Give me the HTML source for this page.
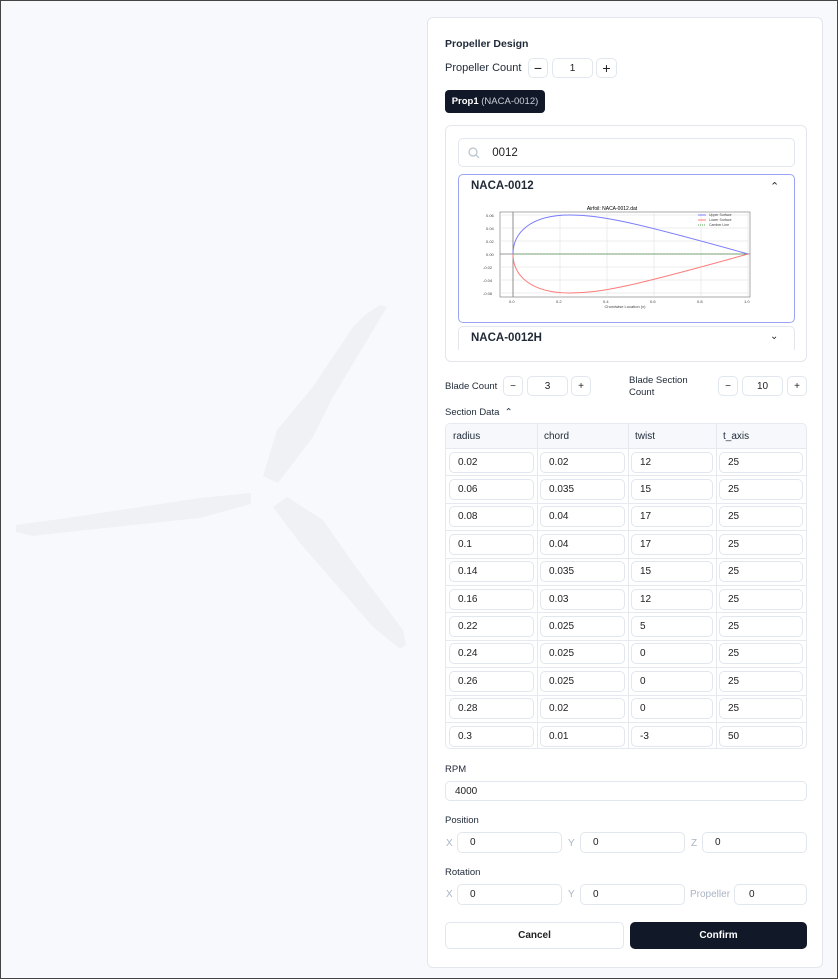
<!DOCTYPE html>
<html><head><meta charset="utf-8"><style>
*{box-sizing:border-box;margin:0;padding:0}
body{width:838px;height:979px;background:#f8f9fc;font-family:"Liberation Sans",sans-serif;color:#111827;position:relative;overflow:hidden}
.frame{position:absolute;left:0;top:0;width:838px;height:979px;border:1px solid #444;pointer-events:none}
.a{position:absolute}
.panel{position:absolute;left:427px;top:17px;width:396px;height:951px;background:#fff;border:1px solid #e3e6ec;border-radius:6px}
.t{position:absolute;font-size:10px;color:#1f2937}
.b{position:absolute;border:1px solid #e2e6ee;border-radius:5px;background:#fff;font-size:10px;color:#222;display:flex;align-items:center}
.c{justify-content:center}
.lab{position:absolute;font-size:10px;color:#aab4c3}
</style></head><body>
<svg class="a" style="left:0;top:0" width="430" height="979">
<g fill="#f0f1f4">
<polygon points="380,305 387,307 333,397 313,437 278,483 263,476 277,430 312,388 353,327 365,315"/>
<polygon points="251,493 251,504 200,518 67,532 33,536 16,532 16,525 67,518 200,498"/>
<polygon points="287,497 273,507 300,543 373,627 400,649 406,645 403,630 353,563 323,520"/>
</g></svg>
<div class="panel"></div>
<div class="t" style="left:445px;top:38px;font-size:10.5px;font-weight:bold">Propeller Design</div>
<div class="t" style="left:445px;top:62px;font-size:11px">Propeller Count</div>
<div class="b c" style="left:528px;top:58px;width:20px;height:20px;font-size:14px">−</div>
<div class="b c" style="left:552px;top:58px;width:41px;height:20px">1</div>
<div class="b c" style="left:596px;top:58px;width:21px;height:20px;font-size:14px">+</div>
<div class="a" style="left:445px;top:90px;width:100px;height:23px;background:#111827;border-radius:4px;color:#fff;font-size:9.5px;line-height:23px;text-align:center"><b>Prop1</b> <span style="color:#c9ced8">(NACA-0012)</span></div>
<div class="a" style="left:445px;top:125px;width:362px;height:237px;border:1px solid #e3e6ec;border-radius:6px"></div>
<div class="b" style="left:458px;top:138px;width:337px;height:29px;font-size:11.5px"><svg width="30" height="14"><circle cx="14" cy="6" r="4" fill="none" stroke="#b6c2cc" stroke-width="1.2"/><line x1="17" y1="9" x2="20" y2="12" stroke="#b6c2cc" stroke-width="1.2"/></svg>&nbsp;0012</div>
<div class="a" style="left:458px;top:174px;width:337px;height:149px;border:1.5px solid #9ba3f5;border-radius:5px"></div>
<div class="t" style="left:471px;top:180px;font-size:11.5px;font-weight:bold">NACA-0012</div>
<div class="t" style="left:770px;top:180px;font-size:11px">⌃</div>
<svg class="a" style="left:470px;top:203px" width="300" height="110" font-family="Liberation Sans" font-size="4">
<text x="142" y="7" text-anchor="middle" font-size="5">Airfoil: NACA-0012.dat</text>
<rect x="30" y="9" width="250" height="85" fill="#fff" stroke="#555" stroke-width=".5"/>
<g stroke="#ddd" stroke-width=".5">
<line x1="43" y1="9" x2="43" y2="94"/><line x1="90" y1="9" x2="90" y2="94"/><line x1="137" y1="9" x2="137" y2="94"/><line x1="184" y1="9" x2="184" y2="94"/><line x1="231" y1="9" x2="231" y2="94"/><line x1="278" y1="9" x2="278" y2="94"/>
<line x1="30" y1="12" x2="280" y2="12"/><line x1="30" y1="25" x2="280" y2="25"/><line x1="30" y1="38" x2="280" y2="38"/><line x1="30" y1="64" x2="280" y2="64"/><line x1="30" y1="77" x2="280" y2="77"/><line x1="30" y1="90" x2="280" y2="90"/></g>
<line x1="43" y1="9" x2="43" y2="94" stroke="#777" stroke-width=".8"/>
<line x1="30" y1="51" x2="280" y2="51" stroke="#777" stroke-width=".8"/>
<path d="M43,51 C43,30 60,12 100,12 C130,12 160,18 278,51" fill="none" stroke="#7b7bff" stroke-width="1"/>
<path d="M43,51 C43,72 60,90 100,90 C130,90 160,84 278,51" fill="none" stroke="#ff7b7b" stroke-width="1"/>
<line x1="43" y1="51" x2="278" y2="51" stroke="#5a5" stroke-width=".7" stroke-dasharray="2,1"/>
<g fill="#444"><text x="16" y="14">0.06</text><text x="16" y="27">0.04</text><text x="16" y="40">0.02</text><text x="16" y="53">0.00</text><text x="13" y="66">-0.02</text><text x="13" y="79">-0.04</text><text x="13" y="92">-0.06</text>
<text x="39" y="100">0.0</text><text x="86" y="100">0.2</text><text x="133" y="100">0.4</text><text x="180" y="100">0.6</text><text x="227" y="100">0.8</text><text x="274" y="100">1.0</text>
<text x="155" y="105" text-anchor="middle">Chordwise Location (x)</text></g>
<g font-size="3.5" fill="#444"><line x1="228" y1="12" x2="236" y2="12" stroke="#7b7bff"/><text x="239" y="13">Upper Surface</text><line x1="228" y1="17" x2="236" y2="17" stroke="#ff7b7b"/><text x="239" y="18">Lower Surface</text><line x1="228" y1="22" x2="236" y2="22" stroke="#5a5" stroke-dasharray="1,1"/><text x="239" y="23">Camber Line</text></g>
</svg>
<div class="a" style="left:458px;top:326px;width:337px;height:24px;border:1px solid #e3e6ec;border-bottom:none;border-radius:5px 5px 0 0"></div>
<div class="t" style="left:471px;top:332px;font-size:11.5px;font-weight:bold">NACA-0012H</div>
<div class="t" style="left:770px;top:331px;font-size:10px">⌄</div>
<div class="t" style="left:445px;top:381px;font-size:9.5px">Blade Count</div>
<div class="b c" style="left:503px;top:376px;width:20px;height:20px">−</div>
<div class="b c" style="left:527px;top:376px;width:41px;height:20px">3</div>
<div class="b c" style="left:571px;top:376px;width:20px;height:20px">+</div>
<div class="t" style="left:629px;top:375px;font-size:9.5px;line-height:12px">Blade Section<br>Count</div>
<div class="b c" style="left:718px;top:376px;width:20px;height:20px">−</div>
<div class="b c" style="left:742px;top:376px;width:41px;height:20px">10</div>
<div class="b c" style="left:787px;top:376px;width:20px;height:20px">+</div>
<div class="t" style="left:445px;top:407px;font-size:9.5px">Section Data &nbsp;⌃</div>
<div class="a" style="left:445px;top:423px;width:362px;height:326px;border:1px solid #e6e9ef;border-radius:5px;background:#fff;overflow:hidden">
<div class="a" style="left:0;top:0;width:362px;height:25px;background:#f6f8fb"></div>
<div class="a" style="left:91px;top:0;width:1px;height:326px;background:#e6e9ef"></div>
<div class="a" style="left:182px;top:0;width:1px;height:326px;background:#e6e9ef"></div>
<div class="a" style="left:270px;top:0;width:1px;height:326px;background:#e6e9ef"></div>
<div class="t" style="left:7px;top:7px">radius</div><div class="t" style="left:98px;top:7px">chord</div><div class="t" style="left:189px;top:7px">twist</div><div class="t" style="left:277px;top:7px">t_axis</div>
</div>
<div id="rows"></div>
<div class="t" style="left:445px;top:764px;font-size:9.5px">RPM</div>
<div class="b" style="left:445px;top:781px;width:362px;height:20px;padding-left:9px">4000</div>
<div class="t" style="left:445px;top:815px;font-size:9.5px">Position</div>
<div class="lab" style="left:446px;top:838px">X</div><div class="b" style="left:457px;top:832px;width:105px;height:21px;padding-left:12px">0</div>
<div class="lab" style="left:568px;top:838px">Y</div><div class="b" style="left:580px;top:832px;width:105px;height:21px;padding-left:12px">0</div>
<div class="lab" style="left:691px;top:838px">Z</div><div class="b" style="left:702px;top:832px;width:105px;height:21px;padding-left:12px">0</div>
<div class="t" style="left:445px;top:867px;font-size:9.5px">Rotation</div>
<div class="lab" style="left:446px;top:889px">X</div><div class="b" style="left:457px;top:884px;width:105px;height:21px;padding-left:12px">0</div>
<div class="lab" style="left:568px;top:889px">Y</div><div class="b" style="left:580px;top:884px;width:105px;height:21px;padding-left:12px">0</div>
<div class="lab" style="left:690px;top:889px">Propeller</div><div class="b" style="left:734px;top:884px;width:73px;height:21px;padding-left:14px">0</div>
<div class="b c" style="left:445px;top:922px;width:179px;height:27px;font-weight:bold">Cancel</div>
<div class="a" style="left:630px;top:922px;width:177px;height:27px;background:#111827;border-radius:5px;color:#fff;font-size:10px;font-weight:bold;text-align:center;line-height:27px">Confirm</div>
<div class="frame"></div>
<script>
var d=[["0.02","0.02","12","25"],["0.06","0.035","15","25"],["0.08","0.04","17","25"],["0.1","0.04","17","25"],["0.14","0.035","15","25"],["0.16","0.03","12","25"],["0.22","0.025","5","25"],["0.24","0.025","0","25"],["0.26","0.025","0","25"],["0.28","0.02","0","25"],["0.3","0.01","-3","50"]];
var xs=[[449,85],[540,85],[631,82],[719,84]],h="";
d.forEach(function(r,i){var y=448+i*27.4;
h+='<div class="a" style="left:445px;top:'+y.toFixed(1)+'px;width:362px;height:1px;background:#e6e9ef"></div>';
r.forEach(function(v,j){h+='<div class="b" style="left:'+xs[j][0]+'px;top:'+(y+3.5).toFixed(1)+'px;width:'+xs[j][1]+'px;height:21px;padding-left:8px">'+v+'</div>';});});
document.getElementById("rows").innerHTML=h;
</script>
</body></html>
